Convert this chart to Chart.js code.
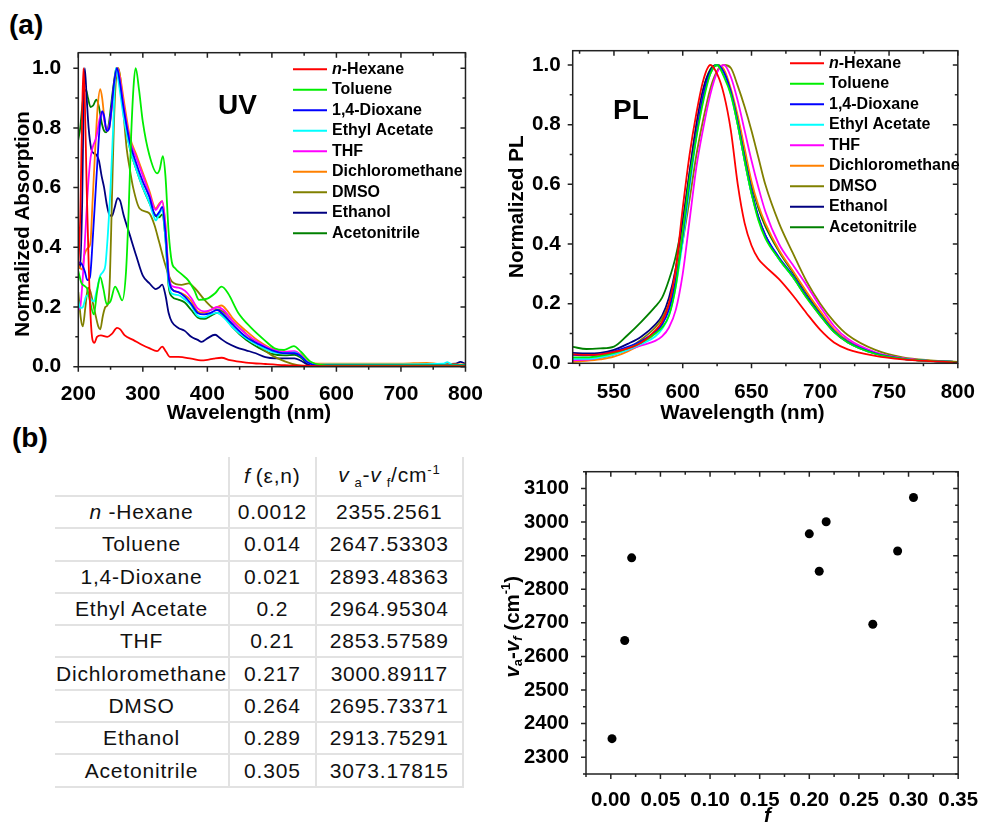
<!DOCTYPE html>
<html>
<head>
<meta charset="utf-8">
<script src="https://cdn.jsdelivr.net/npm/chart.js@4.4.1/dist/chart.umd.min.js"></script>
<style>
  body { margin: 0; background: #fff; width: 984px; height: 825px; overflow: hidden; position: relative;
         font-family: 'Liberation Sans', Arial, sans-serif; }
  canvas { position: absolute; }
  .tag { position: absolute; font-weight: bold; font-size: 28px; line-height: 28px; color: #000; white-space: nowrap; }
  #tbl { position: absolute; left: 55px; top: 457px; border-collapse: separate; border-spacing: 0;
         table-layout: fixed; font-size: 21px; letter-spacing: 0.8px; color: #111; }
  #tbl td { border-right: 2px solid #e2e2e2; border-bottom: 2px solid #e2e2e2; text-align: center;
            padding: 0; height: 30.3px; white-space: nowrap; }
  #tbl tr.head td { height: 38px; }
  #tbl td.c1 { width: 173px; }
  #tbl td.c2 { width: 84.7px; }
  #tbl td.c3 { width: 145.3px; }
  #tbl sub, #tbl sup { font-size: 13px; }
</style>
</head>
<body>
<div class="tag" style="left:9px;top:11px">(a)</div>
<div class="tag" style="left:12px;top:424px">(b)</div>
<canvas id="uv" width="490" height="430" style="left:0;top:0"></canvas>
<canvas id="pl" width="494" height="430" style="left:490px;top:0"></canvas>
<canvas id="sc" width="504" height="385" style="left:480px;top:440px"></canvas>
<div class="tag" style="left:218px;top:91px">UV</div>
<div class="tag" style="left:613px;top:96px">PL</div>
<table id="tbl"></table>
<script>
const FONT = "'Liberation Sans', Arial, sans-serif";

// solvents and their colours
const solvents = ['n-Hexane', 'Toluene', '1,4-Dioxane', 'Ethyl Acetate', 'THF', 'Dichloromethane', 'DMSO', 'Ethanol', 'Acetonitrile'];
const lineColors = ['#ff0000', '#00ee00', '#0000ff', '#00ffff', '#ff00ff', '#ff8000', '#808000', '#000080', '#008000'];

// UV absorption (wavelength nm / normalized absorption), one pair per solvent
const hexaneUvX = [200, 203, 206, 208, 210, 213, 216, 219, 222, 225, 229, 235, 245, 252, 260, 265, 272, 285, 300, 310, 322, 330, 336, 342, 355, 375, 390, 400, 410, 422, 435, 460, 490, 520, 560, 600, 800];
const hexaneUvY = [0.33, 0.5, 0.85, 1.0, 0.9, 0.6, 0.35, 0.17, 0.09, 0.08, 0.1, 0.105, 0.1, 0.11, 0.13, 0.125, 0.105, 0.09, 0.072, 0.062, 0.052, 0.067, 0.05, 0.033, 0.033, 0.027, 0.021, 0.023, 0.027, 0.03, 0.022, 0.014, 0.009, 0.005, 0.003, 0.002, 0.002];
const tolueneUvX = [200, 205, 210, 214, 218, 224, 229, 234, 239, 244, 250, 257, 262, 268, 274, 278, 282, 286, 289, 294, 300, 310, 322, 326, 331, 335, 340, 345, 350, 360, 370, 380, 387, 400, 412, 422, 432, 448, 468, 488, 504, 519, 534, 545, 560, 575, 600, 800];
const tolueneUvY = [0.32, 0.28, 0.27, 0.26, 0.22, 0.175, 0.25, 0.3, 0.26, 0.21, 0.22, 0.268, 0.25, 0.222, 0.32, 0.52, 0.78, 0.95, 1.0, 0.93, 0.82, 0.71, 0.648, 0.66, 0.705, 0.64, 0.45, 0.35, 0.33, 0.31, 0.29, 0.255, 0.224, 0.228, 0.246, 0.268, 0.246, 0.18, 0.13, 0.09, 0.062, 0.056, 0.069, 0.05, 0.017, 0.006, 0.004, 0.004];
const dioxaneUvX = [200, 205, 210, 214, 218, 223, 229, 233, 237, 240, 244, 248, 252, 256, 260, 264, 270, 280, 290, 300, 310, 320, 326, 330, 335, 340, 345, 355, 365, 375, 385, 395, 405, 415, 425, 440, 460, 480, 500, 520, 535, 545, 555, 570, 800];
const dioxaneUvY = [0.35, 0.345, 0.32, 0.29, 0.3, 0.45, 0.665, 0.8, 0.855, 0.84, 0.79, 0.8, 0.88, 0.96, 1.0, 0.96, 0.87, 0.75, 0.68, 0.62, 0.57, 0.505, 0.52, 0.535, 0.45, 0.3, 0.26, 0.25, 0.235, 0.21, 0.18, 0.175, 0.18, 0.19, 0.175, 0.14, 0.1, 0.075, 0.055, 0.045, 0.045, 0.035, 0.015, 0.005, 0.004];
const acetateUvX = [200, 203, 207, 212, 216, 220, 224, 228, 234, 239, 242, 246, 250, 254, 258, 262, 266, 270, 280, 290, 300, 310, 316, 320, 325, 330, 335, 340, 345, 355, 365, 375, 385, 395, 405, 415, 425, 440, 460, 480, 500, 520, 535, 545, 555, 570, 600, 700, 765, 772, 780, 800];
const acetateUvY = [0.22, 0.197, 0.2, 0.235, 0.24, 0.225, 0.218, 0.25, 0.305, 0.32, 0.34, 0.45, 0.6, 0.8, 1.0, 0.96, 0.9, 0.84, 0.73, 0.66, 0.6, 0.55, 0.51, 0.49, 0.51, 0.525, 0.43, 0.28, 0.245, 0.24, 0.225, 0.205, 0.17, 0.165, 0.175, 0.18, 0.165, 0.13, 0.095, 0.07, 0.05, 0.045, 0.048, 0.035, 0.015, 0.007, 0.008, 0.008, 0.01, 0.015, 0.006, 0.006];
const thfUvX = [200, 203, 207, 211, 215, 219, 223, 228, 233, 237, 240, 244, 248, 252, 256, 260, 264, 270, 280, 290, 300, 310, 320, 325, 330, 335, 340, 345, 355, 365, 375, 385, 395, 405, 415, 425, 440, 460, 480, 500, 520, 535, 545, 555, 570, 800];
const thfUvY = [0.19, 0.2, 0.3, 0.45, 0.6, 0.7, 0.74, 0.77, 0.83, 0.855, 0.83, 0.79, 0.81, 0.87, 0.95, 1.0, 0.97, 0.88, 0.76, 0.7, 0.64, 0.58, 0.525, 0.54, 0.555, 0.47, 0.31, 0.27, 0.265, 0.255, 0.23, 0.195, 0.185, 0.19, 0.2, 0.19, 0.15, 0.11, 0.08, 0.058, 0.05, 0.052, 0.038, 0.016, 0.006, 0.005];
const dcmUvX = [200, 203, 206, 209, 212, 216, 219, 222, 226, 230, 234, 237, 241, 244, 248, 252, 256, 261, 265, 270, 280, 290, 300, 310, 320, 325, 330, 335, 340, 345, 355, 365, 375, 385, 395, 405, 415, 422, 430, 440, 460, 480, 500, 520, 535, 545, 555, 570, 600, 700, 740, 760, 800];
const dcmUvY = [0.34, 0.33, 0.325, 0.37, 0.39, 0.4, 0.42, 0.55, 0.72, 0.87, 0.93, 0.9, 0.82, 0.79, 0.8, 0.87, 0.95, 1.0, 0.97, 0.9, 0.77, 0.71, 0.65, 0.59, 0.53, 0.545, 0.555, 0.48, 0.31, 0.26, 0.25, 0.24, 0.22, 0.185, 0.18, 0.19, 0.2, 0.205, 0.19, 0.16, 0.12, 0.085, 0.06, 0.05, 0.05, 0.04, 0.018, 0.01, 0.01, 0.01, 0.013, 0.009, 0.008];
const dmsoUvX = [200, 204, 207, 211, 215, 219, 223, 227, 231, 234, 238, 242, 246, 249, 252, 255, 258, 262, 265, 270, 275, 280, 285, 295, 310, 318, 325, 335, 345, 360, 371, 381, 396, 410, 420, 430, 440, 460, 480, 500, 520, 540, 560, 800];
const dmsoUvY = [0.25, 0.16, 0.135, 0.2, 0.265, 0.25, 0.21, 0.17, 0.135, 0.125, 0.17, 0.2, 0.21, 0.3, 0.55, 0.8, 0.95, 1.0, 0.97, 0.85, 0.73, 0.66, 0.6, 0.53, 0.514, 0.475, 0.42, 0.34, 0.285, 0.274, 0.279, 0.262, 0.223, 0.195, 0.19, 0.175, 0.15, 0.11, 0.07, 0.038, 0.018, 0.005, 0.002, 0.002];
const ethanolUvX = [200, 203, 206, 208, 210, 213, 216, 220, 224, 228, 232, 236, 240, 244, 248, 252, 256, 261, 265, 270, 280, 290, 300, 310, 320, 325, 330, 335, 340, 345, 355, 365, 375, 385, 391, 400, 412, 420, 430, 445, 460, 475, 490, 505, 520, 535, 545, 555, 570, 700, 785, 792, 800];
const ethanolUvY = [0.35, 0.33, 0.55, 0.85, 1.0, 0.9, 0.8, 0.73, 0.715, 0.71, 0.69, 0.64, 0.6, 0.545, 0.51, 0.505, 0.53, 0.565, 0.555, 0.51, 0.44, 0.37, 0.305, 0.28, 0.26, 0.265, 0.275, 0.24, 0.18, 0.15, 0.13, 0.12, 0.1, 0.09, 0.083, 0.095, 0.107, 0.095, 0.08, 0.065, 0.055, 0.045, 0.032, 0.028, 0.028, 0.028, 0.02, 0.008, 0.005, 0.008, 0.01, 0.016, 0.01];
const acnUvX = [200, 203, 206, 209, 212, 215, 219, 223, 228, 232, 236, 240, 243, 247, 251, 255, 259, 263, 268, 275, 280, 290, 300, 310, 320, 325, 330, 335, 340, 345, 355, 365, 375, 385, 395, 405, 415, 425, 440, 460, 480, 500, 520, 535, 545, 555, 570, 800];
const acnUvY = [0.76, 0.8, 0.87, 0.92, 0.927, 0.9, 0.87, 0.875, 0.895, 0.87, 0.82, 0.79, 0.785, 0.81, 0.88, 0.95, 1.0, 0.98, 0.9, 0.79, 0.73, 0.66, 0.6, 0.55, 0.505, 0.5, 0.51, 0.43, 0.27, 0.235, 0.225, 0.215, 0.19, 0.165, 0.16, 0.17, 0.18, 0.17, 0.13, 0.09, 0.063, 0.043, 0.038, 0.04, 0.03, 0.012, 0.004, 0.003];

// PL emission (shared wavelength grid, normalized PL)
const plWavelength = [520, 530, 540, 550, 560, 570, 580, 585, 590, 595, 600, 605, 610, 615, 620, 625, 630, 635, 640, 645, 650, 655, 660, 670, 680, 690, 700, 710, 720, 740, 760, 780, 800];
const hexanePl = [0.03, 0.028, 0.03, 0.038, 0.05, 0.07, 0.11, 0.14, 0.2, 0.32, 0.52, 0.7, 0.84, 0.95, 1.0, 0.97, 0.9, 0.78, 0.6, 0.47, 0.395, 0.35, 0.325, 0.282, 0.228, 0.168, 0.112, 0.07, 0.047, 0.025, 0.013, 0.007, 0.003];
const toluenePl = [0.02, 0.02, 0.025, 0.035, 0.05, 0.07, 0.1, 0.12, 0.16, 0.26, 0.44, 0.62, 0.76, 0.88, 0.97, 1.0, 0.96, 0.9, 0.8, 0.68, 0.57, 0.48, 0.42, 0.35, 0.29, 0.22, 0.16, 0.105, 0.07, 0.032, 0.015, 0.008, 0.004];
const dioxanePl = [0.028, 0.027, 0.03, 0.04, 0.055, 0.075, 0.105, 0.13, 0.18, 0.28, 0.43, 0.61, 0.77, 0.9, 0.975, 1.0, 0.975, 0.91, 0.81, 0.69, 0.58, 0.49, 0.43, 0.355, 0.295, 0.225, 0.163, 0.108, 0.072, 0.033, 0.015, 0.008, 0.004];
const acetatePl = [0.015, 0.015, 0.02, 0.03, 0.045, 0.065, 0.09, 0.115, 0.16, 0.26, 0.41, 0.59, 0.76, 0.89, 0.97, 1.0, 0.97, 0.9, 0.8, 0.68, 0.57, 0.485, 0.425, 0.35, 0.29, 0.222, 0.162, 0.107, 0.071, 0.032, 0.015, 0.008, 0.004];
const thfPl = [0.01, 0.012, 0.02, 0.03, 0.045, 0.06, 0.075, 0.09, 0.12, 0.18, 0.3, 0.48, 0.66, 0.79, 0.9, 0.975, 1.0, 0.96, 0.88, 0.78, 0.68, 0.59, 0.51, 0.4, 0.33, 0.262, 0.19, 0.125, 0.082, 0.037, 0.017, 0.008, 0.004];
const dcmPl = [0.005, 0.008, 0.013, 0.022, 0.04, 0.065, 0.1, 0.13, 0.19, 0.3, 0.44, 0.6, 0.77, 0.9, 0.97, 1.0, 0.985, 0.92, 0.83, 0.72, 0.61, 0.53, 0.47, 0.38, 0.31, 0.24, 0.175, 0.115, 0.075, 0.035, 0.016, 0.008, 0.004];
const dmsoPl = [0.01, 0.012, 0.018, 0.03, 0.05, 0.08, 0.12, 0.15, 0.2, 0.29, 0.41, 0.55, 0.7, 0.82, 0.92, 0.98, 1.0, 0.99, 0.93, 0.86, 0.78, 0.69, 0.6, 0.47, 0.37, 0.275, 0.2, 0.14, 0.095, 0.045, 0.02, 0.01, 0.005];
const ethanolPl = [0.035, 0.033, 0.035, 0.045, 0.065, 0.09, 0.13, 0.16, 0.22, 0.32, 0.47, 0.64, 0.8, 0.92, 0.98, 1.0, 0.98, 0.91, 0.8, 0.68, 0.57, 0.49, 0.43, 0.35, 0.29, 0.222, 0.16, 0.105, 0.07, 0.032, 0.015, 0.008, 0.004];
const acnPl = [0.055, 0.048, 0.05, 0.056, 0.095, 0.14, 0.19, 0.22, 0.28, 0.36, 0.48, 0.64, 0.8, 0.92, 0.985, 1.0, 0.97, 0.91, 0.82, 0.71, 0.6, 0.52, 0.46, 0.375, 0.305, 0.235, 0.168, 0.112, 0.075, 0.035, 0.016, 0.008, 0.004];

// Lippert data (b)
const polarityF = [0.0012, 0.014, 0.021, 0.2, 0.21, 0.217, 0.264, 0.289, 0.305];
const stokesShift = [2355.2561, 2647.53303, 2893.48363, 2964.95304, 2853.57589, 3000.89117, 2695.73371, 2913.75291, 3073.17815];

// tick labels
const uvTicksX = [200, 300, 400, 500, 600, 700, 800];
const uvTicksY = [0, 0.2, 0.4, 0.6, 0.8, 1.0];
const plTicksX = [550, 600, 650, 700, 750, 800];
const plTicksY = [0, 0.2, 0.4, 0.6, 0.8, 1.0];
const scTicksX = [0, 0.05, 0.1, 0.15, 0.2, 0.25, 0.3, 0.35];
const scTicksY = [2300, 2400, 2500, 2600, 2700, 2800, 2900, 3000, 3100];

const uvX = [hexaneUvX, tolueneUvX, dioxaneUvX, acetateUvX, thfUvX, dcmUvX, dmsoUvX, ethanolUvX, acnUvX];
const uvY = [hexaneUvY, tolueneUvY, dioxaneUvY, acetateUvY, thfUvY, dcmUvY, dmsoUvY, ethanolUvY, acnUvY];
const plY = [hexanePl, toluenePl, dioxanePl, acetatePl, thfPl, dcmPl, dmsoPl, ethanolPl, acnPl];

Chart.defaults.font.family = FONT;
Chart.defaults.color = '#000';

function axis(min, max, ticks, digits, pad, size, isX, fontSize) {
  return {
    type: 'linear', min, max,
    grid: { display: false }, border: { display: false },
    afterBuildTicks: s => { s.ticks = ticks.map(v => ({ value: v })); },
    afterFit: s => { if (isX) s.height = size; else s.width = size; },
    ticks: { font: { size: fontSize, weight: 'bold' }, color: '#000', padding: pad, autoSkip: false, maxRotation: 0,
             callback: v => Number(v).toFixed(digits) }
  };
}

// major ticks from the tick list, minor ones half way
function marks(scale) {
  const t = scale.ticks.map(k => k.value);
  const step = t[1] - t[0];
  const out = t.map(v => [v, 5]);
  for (let v = t[0] - step / 2; v <= scale.max + 1e-9; v += step) {
    if (v >= scale.min - 1e-9) out.push([v, 3]);
  }
  return out;
}

const frame = {
  id: 'frame',
  afterDatasetsDraw(chart) {
    const { ctx, chartArea: a, scales: { x, y } } = chart;
    ctx.save();
    ctx.strokeStyle = '#222';
    ctx.lineWidth = 1.5;
    ctx.strokeRect(a.left, a.top, a.right - a.left, a.bottom - a.top);
    ctx.beginPath();
    marks(x).forEach(([v, len]) => {
      const p = x.getPixelForValue(v);
      ctx.moveTo(p, a.bottom); ctx.lineTo(p, a.bottom + len);
      ctx.moveTo(p, a.top); ctx.lineTo(p, a.top + len);
    });
    marks(y).forEach(([v, len]) => {
      const p = y.getPixelForValue(v);
      ctx.moveTo(a.left, p); ctx.lineTo(a.left - len, p);
      ctx.moveTo(a.right, p); ctx.lineTo(a.right - len, p);
    });
    ctx.stroke();
    ctx.restore();
  }
};

function drawRich(ctx, segs, x, y, rot) {
  ctx.save();
  ctx.translate(x, y);
  if (rot) ctx.rotate(-Math.PI / 2);
  ctx.textBaseline = 'middle';
  ctx.textAlign = 'left';
  ctx.fillStyle = '#000';
  const fontOf = s => (s.i ? 'italic ' : '') + 'bold ' + (s.sub || s.sup ? 13 : 20.5) + 'px ' + FONT;
  let w = 0;
  segs.forEach(s => { ctx.font = fontOf(s); w += ctx.measureText(s.t).width; });
  let cx = -w / 2;
  segs.forEach(s => {
    ctx.font = fontOf(s);
    ctx.fillText(s.t, cx, s.sub ? 5 : s.sup ? -7 : 0);
    cx += ctx.measureText(s.t).width;
  });
  ctx.restore();
}

// axis titles, drawn at fixed spots
function titles(items) {
  return { id: 'titles', afterDraw(chart) { items.forEach(it => drawRich(chart.ctx, it.segs, it.x, it.y, it.rot)); } };
}

// legend inside the plot, Origin style
function insideLegend(dx, dy, gap) {
  return {
    id: 'insideLegend',
    afterDraw(chart) {
      const { ctx, chartArea: a } = chart;
      ctx.save();
      ctx.textBaseline = 'middle';
      chart.data.datasets.forEach((ds, i) => {
        const x = a.left + dx, y = a.top + dy + i * gap;
        ctx.strokeStyle = ds.borderColor;
        ctx.lineWidth = 2;
        ctx.beginPath(); ctx.moveTo(x, y); ctx.lineTo(x + 34, y); ctx.stroke();
        ctx.fillStyle = '#000';
        let tx = x + 39, label = ds.label;
        if (label.startsWith('n-')) {
          ctx.font = 'italic bold 16px ' + FONT;
          ctx.fillText('n', tx, y);
          tx += ctx.measureText('n').width;
          label = label.slice(1);
        }
        ctx.font = 'bold 16px ' + FONT;
        ctx.fillText(label, tx, y);
      });
      ctx.restore();
    }
  };
}

function lineSet(xs, ys, i) {
  return {
    label: solvents[i],
    data: xs.map((x, k) => ({ x, y: ys[k] })),
    borderColor: lineColors[i], borderWidth: 1.8,
    pointRadius: 0, fill: false, cubicInterpolationMode: 'monotone'
  };
}

const common = { responsive: false, animation: false, devicePixelRatio: 1,
                 plugins: { legend: { display: false }, tooltip: { enabled: false } } };

new Chart(document.getElementById('uv'), {
  type: 'line',
  data: { datasets: solvents.map((s, i) => lineSet(uvX[i], uvY[i], i)) },
  options: Object.assign({}, common, {
    layout: { padding: { top: 52.7, right: 20, left: 0, bottom: 0 } },
    scales: { x: axis(200, 800, uvTicksX, 0, 7, 63.3, true, 21), y: axis(0, 1.052, uvTicksY, 1, 9, 78.3, false, 21) }
  }),
  plugins: [frame, insideLegend(214.7, 16.6, 20.5), titles([
    { segs: [{ t: 'Normalized Absorption' }], x: 23.5, y: 224, rot: true },
    { segs: [{ t: 'Wavelength (nm)' }], x: 249, y: 413 }
  ])]
});

new Chart(document.getElementById('pl'), {
  type: 'line',
  data: { datasets: solvents.map((s, i) => lineSet(plWavelength, plY[i], i)) },
  options: Object.assign({}, common, {
    layout: { padding: { top: 50.7, right: 20, left: 0, bottom: 0 } },
    scales: { x: axis(520, 800, plTicksX, 0, 9, 66.7, true, 20.6), y: axis(0, 1.048, plTicksY, 1, 4, 82.7, false, 20.6) }
  }),
  plugins: [frame, insideLegend(217.3, 12.6, 20.5), titles([
    { segs: [{ t: 'Normalized PL' }], x: 27.7, y: 206.7, rot: true },
    { segs: [{ t: 'Wavelength (nm)' }], x: 252.5, y: 413 }
  ])]
});

new Chart(document.getElementById('sc'), {
  type: 'scatter',
  data: { datasets: [{ data: polarityF.map((f, i) => ({ x: f, y: stokesShift[i] })),
                       pointRadius: 4.5, backgroundColor: '#000', borderWidth: 0 }] },
  options: Object.assign({}, common, {
    layout: { padding: { top: 31.7, right: 20.7, left: 0, bottom: 0 } },
    scales: { x: axis(-0.025, 0.35, scTicksX, 2, 6, 51, true, 20.4), y: axis(2250, 3150, scTicksY, 0, 9, 106, false, 20.2) }
  }),
  plugins: [frame, titles([
    { segs: [{ t: 'v', i: true }, { t: 'a', sub: true }, { t: '-' }, { t: 'v', i: true }, { t: 'f', sub: true, i: true },
             { t: ' (cm' }, { t: '-1', sup: true }, { t: ')' }], x: 33.3, y: 186.7, rot: true },
    { segs: [{ t: 'f', i: true }], x: 287.3, y: 376.7 }
  ])]
});

// table (b) built from the same arrays
const fmtName = s => s.startsWith('n-') ? '<i>n</i> -' + s.slice(2) : s;
let rows = '<tr class="head"><td class="c1"></td><td class="c2"><i>f</i>&thinsp;(ε,n)</td>' +
           '<td class="c3"><i>v</i>&thinsp;<sub>a</sub>-<i>v</i>&thinsp;<sub>f</sub>/cm<sup>-1</sup></td></tr>';
solvents.forEach((s, i) => {
  rows += '<tr><td class="c1">' + fmtName(s) + '</td><td class="c2">' + polarityF[i] +
          '</td><td class="c3">' + stokesShift[i] + '</td></tr>';
});
document.getElementById('tbl').innerHTML = rows;
</script>
</body>
</html>
